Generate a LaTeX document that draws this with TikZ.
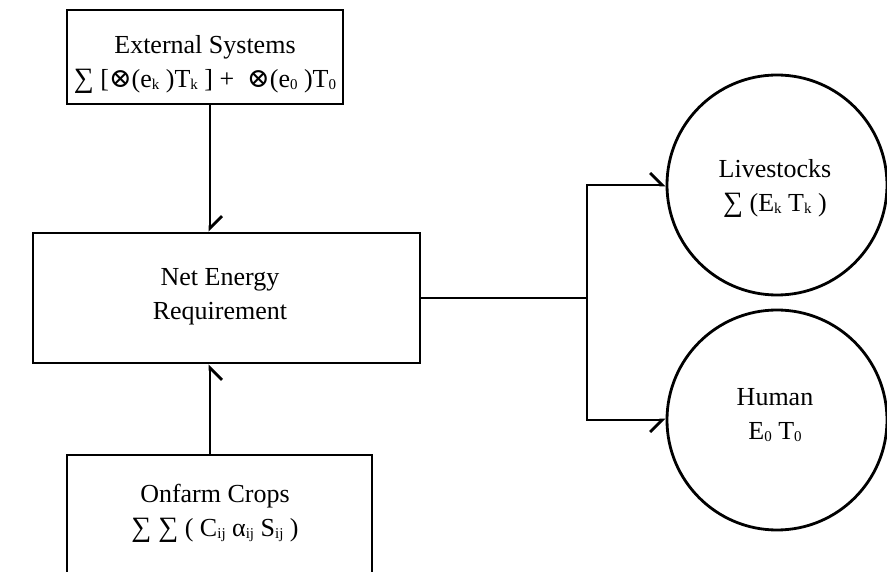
\documentclass[tikz,border=0pt]{standalone}
\usepackage{fontspec}
\setmainfont{Liberation Serif}
\newfontfamily\symfont{DejaVu Serif}
\usetikzlibrary{arrows.meta}
\newcommand\lsub[1]{\raisebox{-0.1em}{\fontsize{15}{15}\selectfont #1}}
\newcommand\otm{{\symfont\fontsize{27}{27}\selectfont ⊗}}
\begin{document}
\begin{tikzpicture}[x=1pt,y=1pt,
  box/.style={draw, line width=2.8pt, rectangle, inner sep=0pt},
  circ/.style={draw, circle, line width=2.8pt, inner sep=0pt, minimum size=220pt},
  lab/.style={font=\fontsize{26}{34}\selectfont, align=center, inner sep=0pt},
  conn/.style={line width=2.8pt},
  hl/.style={-{Straight Barb[harpoon,length=12pt,width=24pt]}},
  hr/.style={-{Straight Barb[harpoon,swap,length=12pt,width=24pt]}}]
\fill[white] (0,0) rectangle (887,571);
\useasboundingbox (0,0) rectangle (887,571);
\begin{scope}
\clip (0,0) rectangle (887,571);
\node[box, minimum width=276pt, minimum height=94pt] (ext) at (205,514) {};
\node[box, minimum width=387pt, minimum height=130pt] (net) at (226.5,273) {};
\node[box, minimum width=305pt, minimum height=136pt] (farm) at (219.5,48) {};
\node[circ] (live) at (777,386) {};
\node[circ] (hum) at (777,151) {};
\end{scope}
\node[lab] (extt) at (205,507) {External Systems\\ {\fontsize{28}{28}\selectfont ∑} [\otm(e\lsub{k} )T\lsub{k} ] + \ \otm(e\lsub{0} )T\lsub{0}};
\node[lab] (nett) at (220,274) {Net Energy\\ Requirement};
\node[lab] (farmt) at (215,58) {Onfarm Crops\\ {\fontsize{28}{28}\selectfont ∑ ∑} ( C\lsub{ij} α\lsub{ij} S\lsub{ij} )};
\node[lab] (livet) at (775,383) {Livestocks\\ {\fontsize{28}{28}\selectfont ∑} (E\lsub{k} T\lsub{k} )};
\node[lab] (humt) at (775,156) {Human\\ E\lsub{0} T\lsub{0}};
\coordinate (ax) at (210,0);
\coordinate (j) at (587,273);
\draw[conn,hl] (ext.south -| ax) -- (net.north -| ax);
\draw[conn,hr] (farm.north -| ax) -- (net.south -| ax);
\draw[conn] (net.east) -- (j);
\draw[conn,hl] (j) |- (live.west);
\draw[conn,hr] (j) |- (hum.west);
\end{tikzpicture}
\end{document}
